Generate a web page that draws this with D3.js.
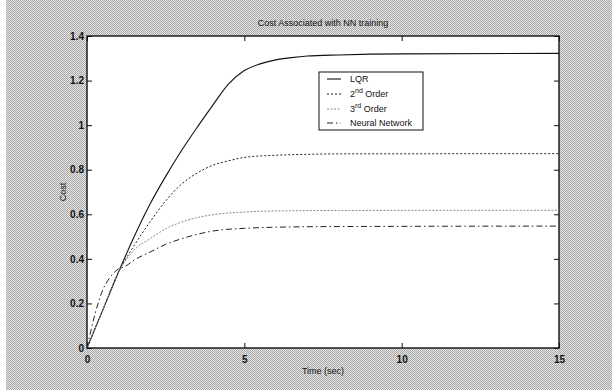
<!DOCTYPE html>
<html>
<head>
<meta charset="utf-8">
<script src="https://cdn.jsdelivr.net/npm/d3@7"></script>
<style>
  body { margin: 0; background: #fff; }
  svg text { font-family: "Liberation Sans", Arial, sans-serif; fill: #111; }
</style>
</head>
<body>
<div id="chart"></div>
<script>
// data (time in sec, cost)
const timeLQR = [0, 0.5, 1, 1.5, 2, 2.5, 3, 3.5, 4, 4.5, 5, 5.5, 6, 6.5, 7, 8, 10, 15];
const costLQR = [0, 0.17, 0.34, 0.5, 0.645, 0.77, 0.885, 0.99, 1.09, 1.185, 1.245, 1.275, 1.293, 1.303, 1.31, 1.315, 1.32, 1.322];

const time2nd = [0, 0.5, 1, 1.5, 2, 2.5, 3, 3.5, 4, 4.5, 5, 6, 7, 8, 15];
const cost2nd = [0, 0.17, 0.34, 0.46, 0.565, 0.66, 0.735, 0.785, 0.82, 0.84, 0.855, 0.865, 0.869, 0.871, 0.872];

const time3rd = [0, 0.5, 1, 1.5, 2, 2.5, 3, 3.5, 4, 5, 6, 8, 15];
const cost3rd = [0, 0.17, 0.34, 0.44, 0.49, 0.535, 0.565, 0.585, 0.598, 0.61, 0.615, 0.617, 0.618];

const timeNN = [0, 0.25, 0.5, 0.75, 1, 1.2, 1.5, 2, 2.5, 3, 3.5, 4, 5, 6, 8, 15];
const costNN = [0, 0.15, 0.26, 0.32, 0.355, 0.365, 0.395, 0.43, 0.465, 0.49, 0.51, 0.525, 0.537, 0.542, 0.545, 0.547];

const xTicks = [0, 5, 10, 15];
const yTicks = [0, 0.2, 0.4, 0.6, 0.8, 1, 1.2, 1.4];

const W = 612, H = 390;
const margin = { top: 36, right: 53, bottom: 42, left: 87 };
const width = W - margin.left - margin.right,
      height = H - margin.top - margin.bottom;

const svg = d3.select("#chart").append("svg")
    .attr("width", W)
    .attr("height", H);

// dithered grey figure background
const defs = svg.append("defs");
const pat = defs.append("pattern")
    .attr("id", "dither")
    .attr("width", 2).attr("height", 2)
    .attr("patternUnits", "userSpaceOnUse");
pat.append("rect").attr("width", 2).attr("height", 2).attr("fill", "#e4e4e4");
pat.append("rect").attr("width", 1).attr("height", 1).attr("fill", "#a9a9a9");
pat.append("rect").attr("x", 1).attr("y", 1).attr("width", 1).attr("height", 1).attr("fill", "#a9a9a9");

svg.append("rect").attr("x", 6).attr("y", 0).attr("width", W - 6).attr("height", H)
    .attr("fill", "url(#dither)");

const g = svg.append("g").attr("transform", `translate(${margin.left},${margin.top})`);

const x = d3.scaleLinear().domain([0, 15]).range([0, width]);
const y = d3.scaleLinear().domain([0, 1.4]).range([height, 0]);

g.append("rect").attr("width", width).attr("height", height).attr("fill", "#fff");

// axes, MATLAB style: ticks inward on all sides
const fmt = d => String(d);
g.append("g").attr("transform", `translate(0,${height})`)
    .call(d3.axisBottom(x).tickValues(xTicks).tickFormat(fmt).tickSizeInner(-5).tickSizeOuter(0).tickPadding(8));
g.append("g")
    .call(d3.axisTop(x).tickValues(xTicks).tickFormat("").tickSizeInner(-5).tickSizeOuter(0));
g.append("g")
    .call(d3.axisLeft(y).tickValues(yTicks).tickFormat(fmt).tickSizeInner(-5).tickSizeOuter(0).tickPadding(3));
g.append("g").attr("transform", `translate(${width},0)`)
    .call(d3.axisRight(y).tickValues(yTicks).tickFormat("").tickSizeInner(-5).tickSizeOuter(0));

g.selectAll(".tick text").attr("font-size", 10).attr("font-weight", "bold").attr("fill", "#111");
g.selectAll(".domain").remove();
g.selectAll(".tick line").attr("stroke", "#111");
g.append("rect").attr("width", width).attr("height", height)
    .attr("fill", "none").attr("stroke", "#111").attr("stroke-width", 1.4);

// series
const series = [
    { name: "LQR", t: timeLQR, v: costLQR, color: "#111", dash: null, w: 1.1 },
    { name: "2nd", t: time2nd, v: cost2nd, color: "#222", dash: "2,2", w: 1 },
    { name: "3rd", t: time3rd, v: cost3rd, color: "#8a8a8a", dash: "2,1.5", w: 1 },
    { name: "NN", t: timeNN, v: costNN, color: "#222", dash: "6,3,1.5,3", w: 1 }
];

const line = d3.line()
    .x(d => x(d[0]))
    .y(d => y(d[1]))
    .curve(d3.curveMonotoneX);

series.forEach(s => {
    g.append("path")
        .datum(s.t.map((t, i) => [t, s.v[i]]))
        .attr("fill", "none")
        .attr("stroke", s.color)
        .attr("stroke-width", s.w)
        .attr("stroke-dasharray", s.dash)
        .attr("d", line);
});

// title and labels
svg.append("text").attr("x", margin.left + width / 2).attr("y", 26)
    .attr("text-anchor", "middle").attr("font-size", 9).text("Cost Associated with NN training");
svg.append("text").attr("x", margin.left + width / 2).attr("y", 374)
    .attr("text-anchor", "middle").attr("font-size", 9).text("Time (sec)");
svg.append("text").attr("transform", "translate(66,192) rotate(-90)")
    .attr("text-anchor", "middle").attr("font-size", 9).text("Cost");

// legend
const lg = svg.append("g").attr("transform", "translate(319,72)");
lg.append("rect").attr("width", 104).attr("height", 58)
    .attr("fill", "#fff").attr("stroke", "#111").attr("stroke-width", 1);
const legendRows = [
    { s: series[0], y: 5, label: ["LQR"] },
    { s: series[1], y: 20, label: ["2", "nd", " Order"] },
    { s: series[2], y: 35, label: ["3", "rd", " Order"] },
    { s: series[3], y: 49, label: ["Neural Network"] }
];
legendRows.forEach(r => {
    lg.append("line").attr("x1", 8).attr("x2", 22).attr("y1", r.y + 2).attr("y2", r.y + 2)
        .attr("stroke", r.s.color).attr("stroke-width", r.s.w).attr("stroke-dasharray", r.s.dash);
    const t = lg.append("text").attr("x", 31).attr("y", r.y + 5).attr("font-size", 9);
    if (r.label.length === 1) {
        t.text(r.label[0]);
    } else {
        t.append("tspan").text(r.label[0]);
        t.append("tspan").attr("dy", -4).attr("font-size", 7).text(r.label[1]);
        t.append("tspan").attr("dy", 4).text(r.label[2]);
    }
});
</script>
</body>
</html>
